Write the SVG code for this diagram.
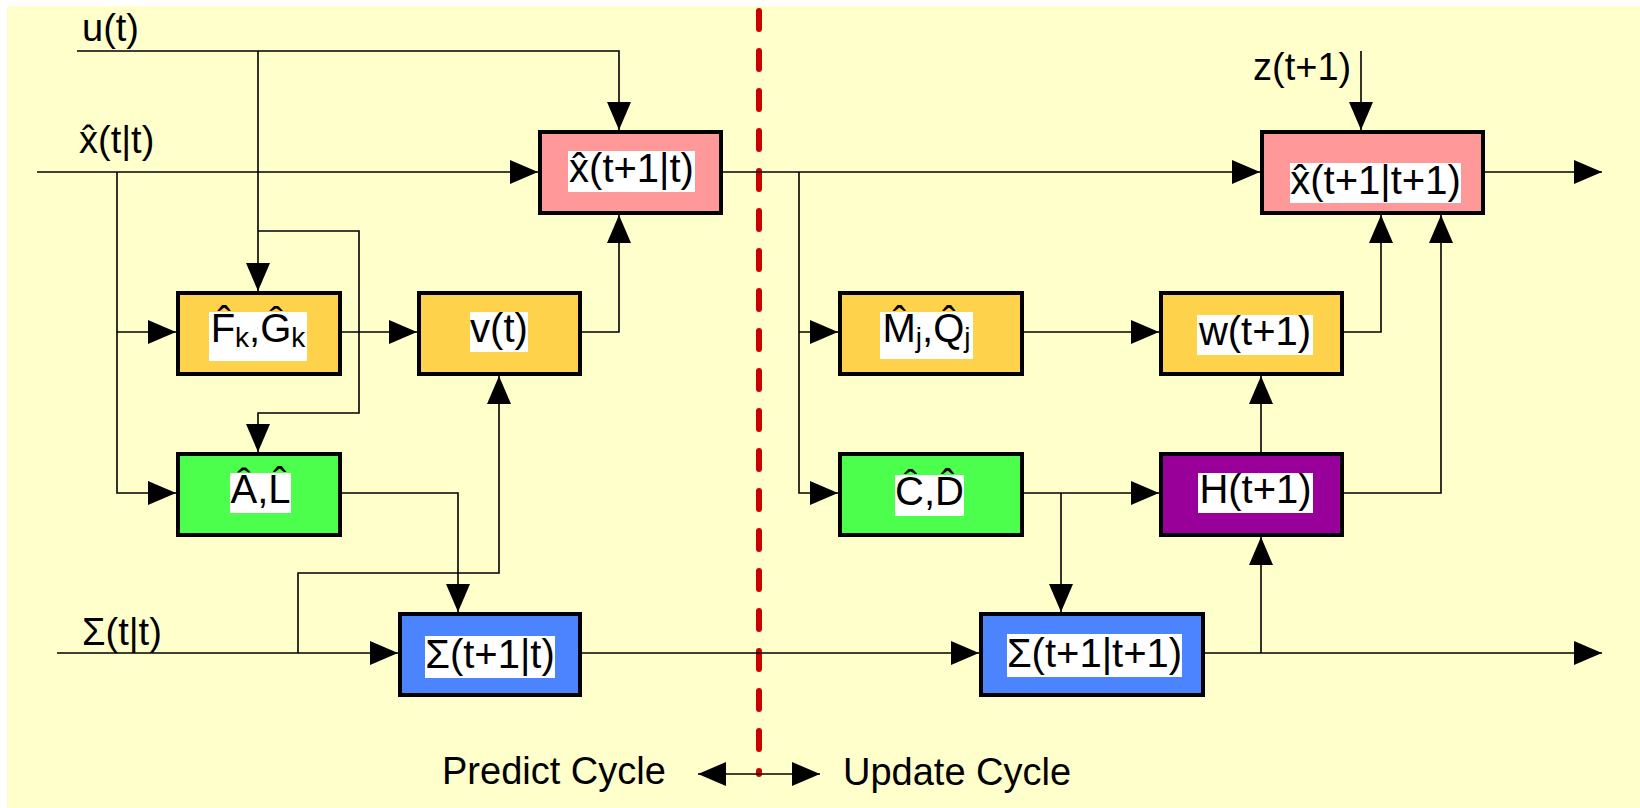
<svg xmlns="http://www.w3.org/2000/svg" width="1640" height="808" viewBox="0 0 1640 808">
<style>
  .box { stroke: #000; stroke-width: 4; }
  .lbl { fill: #fff; }
  .t { font-family: "Liberation Sans", Arial, sans-serif; font-size: 40px; fill: #000; text-anchor: middle; }
  .o { font-family: "Liberation Sans", Arial, sans-serif; font-size: 38px; fill: #000; }
  .sub { font-size: 28px; }
  .c { fill: none; stroke: #000; stroke-width: 1.6; }
  .a { marker-end: url(#ah); }
</style>
<defs>
  <marker id="ah" viewBox="0 0 28 24" refX="28" refY="12" markerWidth="28" markerHeight="24" markerUnits="userSpaceOnUse" orient="auto-start-reverse">
    <path d="M0,0 L28,12 L0,24 Z" fill="#000"/>
  </marker>
</defs>
<rect x="0" y="0" width="1640" height="808" fill="#fff"/>
<rect x="7" y="6" width="1633" height="802" fill="#FFFFCC"/>

<!-- divider -->
<line x1="759" y1="11" x2="759" y2="774" stroke="#CC0000" stroke-width="6" stroke-linecap="round" stroke-dasharray="18 22"/>

<!-- connectors -->
<g id="connectors">
  <path class="c a" d="M77,51 H619 V130"/>
  <path class="c a" d="M258,51 V291"/>
  <path class="c a" d="M258,231 H359 V413 H258 V452"/>
  <path class="c a" d="M37,172 H538"/>
  <path class="c a" d="M117,172 V493 H176"/>
  <path class="c a" d="M117,332 H176"/>
  <path class="c a" d="M342,332 H417"/>
  <path class="c a" d="M582,332 H619 V215"/>
  <path class="c a" d="M342,493 H458 V612"/>
  <path class="c a" d="M57,653 H398"/>
  <path class="c a" d="M298,653 V573 H499 V376"/>
  <path class="c a" d="M582,653 H979"/>
  <path class="c a" d="M723,172 H1260"/>
  <path class="c a" d="M799,172 V493 H838"/>
  <path class="c a" d="M799,332 H838"/>
  <path class="c a" d="M1024,332 H1159"/>
  <path class="c a" d="M1344,332 H1381 V215"/>
  <path class="c a" d="M1361,51 V130"/>
  <path class="c a" d="M1485,172 H1602"/>
  <path class="c a" d="M1024,493 H1159"/>
  <path class="c a" d="M1061,493 V612"/>
  <path class="c a" d="M1344,493 H1441 V215"/>
  <path class="c a" d="M1261,452 V376"/>
  <path class="c a" d="M1205,653 H1602"/>
  <path class="c a" d="M1261,653 V537"/>
  <path class="c" d="M698,774 H820" marker-start="url(#ah)" marker-end="url(#ah)"/>
</g>

<!-- outer labels -->
<g id="labels">
  <text class="o" x="82" y="41">u(t)</text>
  <text class="o" x="79" y="153">x̂(t|t)</text>
  <text class="o" x="82" y="645">Σ(t|t)</text>
  <text class="o" x="1253" y="80">z(t+1)</text>
  <text class="o" x="442" y="784">Predict Cycle</text>
  <text class="o" x="843" y="785">Update Cycle</text>
</g>

<g id="n-xpred">
  <rect class="box" x="540" y="132" width="181" height="81" fill="#FF9999"/>
  <rect class="lbl" x="568" y="151" width="127" height="41"/>
  <text class="t" x="631.5" y="182">x̂(t+1|t)</text>
</g>
<g id="n-fg">
  <rect class="box" x="178" y="293" width="162" height="81" fill="#FFD24C"/>
  <rect class="lbl" x="209" y="312" width="98" height="49"/>
  <text class="t" x="258" y="342">F̂<tspan class="sub" dy="5">k</tspan><tspan dy="-5">,Ĝ</tspan><tspan class="sub" dy="5">k</tspan></text>
</g>
<g id="n-v">
  <rect class="box" x="419" y="293" width="161" height="81" fill="#FFD24C"/>
  <rect class="lbl" x="470" y="312" width="58" height="40"/>
  <text class="t" x="499" y="342">v(t)</text>
</g>
<g id="n-al">
  <rect class="box" x="178" y="454" width="162" height="81" fill="#4CFF4C"/>
  <rect class="lbl" x="230" y="473" width="61" height="40"/>
  <text class="t" x="260.5" y="503">Â,L̂</text>
</g>
<g id="n-spred">
  <rect class="box" x="400" y="614" width="180" height="81" fill="#4C84FF"/>
  <rect class="lbl" x="425" y="636" width="130" height="42"/>
  <text class="t" x="490" y="668">Σ(t+1|t)</text>
</g>
<g id="n-xupd">
  <rect class="box" x="1262" y="132" width="221" height="81" fill="#FF9999"/>
  <rect class="lbl" x="1290" y="163" width="171" height="40"/>
  <text class="t" x="1375.5" y="194">x̂(t+1|t+1)</text>
</g>
<g id="n-mq">
  <rect class="box" x="840" y="293" width="182" height="81" fill="#FFD24C"/>
  <rect class="lbl" x="880" y="312" width="93" height="47"/>
  <text class="t" x="926.5" y="342">M̂<tspan class="sub" dy="5">j</tspan><tspan dy="-5">,Q̂</tspan><tspan class="sub" dy="5">j</tspan></text>
</g>
<g id="n-w">
  <rect class="box" x="1161" y="293" width="181" height="81" fill="#FFD24C"/>
  <rect class="lbl" x="1197" y="315" width="116" height="40"/>
  <text class="t" x="1255" y="345">w(t+1)</text>
</g>
<g id="n-cd">
  <rect class="box" x="840" y="454" width="182" height="81" fill="#4CFF4C"/>
  <rect class="lbl" x="895" y="475" width="69" height="41"/>
  <text class="t" x="929.5" y="505">Ĉ,D̂</text>
</g>
<g id="n-h">
  <rect class="box" x="1161" y="454" width="181" height="81" fill="#990099"/>
  <rect class="lbl" x="1198" y="473" width="115" height="40"/>
  <text class="t" x="1255.5" y="503">H(t+1)</text>
</g>
<g id="n-supd">
  <rect class="box" x="981" y="614" width="222" height="81" fill="#4C84FF"/>
  <rect class="lbl" x="1007" y="634" width="175" height="43"/>
  <text class="t" x="1094.5" y="667">Σ(t+1|t+1)</text>
</g>
</svg>
